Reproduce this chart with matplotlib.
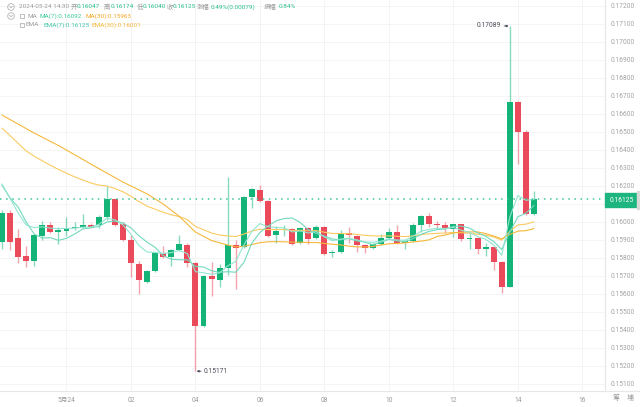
import matplotlib
matplotlib.use("Agg")
import matplotlib.pyplot as plt
from matplotlib.patches import Rectangle, Circle
from matplotlib.lines import Line2D
from matplotlib.transforms import IdentityTransform

plt.rcParams["font.family"] = ["Roboto", "Noto Sans CJK SC", "DejaVu Sans"]

# ---------- data (15 min candles, 23 May 22:00 -> 24 May 14:30) ----------
opens = [0.15891, 0.16048, 0.15911, 0.15811, 0.15785, 0.15924, 0.15983, 0.15947, 0.15950, 0.15968,
         0.15971, 0.15983, 0.15982, 0.16029, 0.16126, 0.15989, 0.15900, 0.15767, 0.15668, 0.15726,
         0.15826, 0.15804, 0.15843, 0.15874, 0.15771, 0.15422, 0.15702, 0.15676, 0.15746, 0.15874,
         0.15859, 0.16141, 0.16179, 0.16117, 0.15928, 0.15957, 0.15959, 0.15882, 0.15965, 0.15911,
         0.15971, 0.15826, 0.15833, 0.15937, 0.15922, 0.15871, 0.15854, 0.15876, 0.15909, 0.15944,
         0.15885, 0.15893, 0.15985, 0.16033, 0.15989, 0.15982, 0.15959, 0.15987, 0.15904, 0.15909,
         0.15848, 0.15859, 0.15779, 0.15641, 0.16668, 0.16502, 0.16047]
highs = [0.16067, 0.16065, 0.15961, 0.15867, 0.15933, 0.16007, 0.16000, 0.15974, 0.16029, 0.16002,
         0.16046, 0.15996, 0.16039, 0.16200, 0.16128, 0.16000, 0.15928, 0.15785, 0.15733, 0.15835,
         0.15867, 0.15848, 0.15928, 0.15881, 0.15778, 0.15706, 0.15779, 0.15767, 0.16248, 0.15900,
         0.16144, 0.16189, 0.16206, 0.16120, 0.15979, 0.15981, 0.15967, 0.15972, 0.15972, 0.15983,
         0.15975, 0.15842, 0.15956, 0.15974, 0.15928, 0.15875, 0.15885, 0.15933, 0.15965, 0.15983,
         0.15900, 0.15993, 0.16039, 0.16050, 0.16007, 0.15998, 0.15989, 0.15989, 0.15946, 0.15911,
         0.15882, 0.15861, 0.15783, 0.17089, 0.16670, 0.16512, 0.16174]
lows = [0.15850, 0.15844, 0.15771, 0.15752, 0.15757, 0.15900, 0.15939, 0.15878, 0.15924, 0.15956,
        0.15967, 0.15967, 0.15967, 0.16011, 0.15978, 0.15894, 0.15693, 0.15600, 0.15659, 0.15722,
        0.15800, 0.15756, 0.15839, 0.15748, 0.15171, 0.15417, 0.15589, 0.15641, 0.15706, 0.15626,
        0.15856, 0.16079, 0.16111, 0.15917, 0.15885, 0.15922, 0.15872, 0.15878, 0.15878, 0.15906,
        0.15817, 0.15807, 0.15828, 0.15885, 0.15833, 0.15826, 0.15850, 0.15872, 0.15906, 0.15878,
        0.15848, 0.15889, 0.15946, 0.15974, 0.15965, 0.15941, 0.15918, 0.15896, 0.15848, 0.15822,
        0.15811, 0.15733, 0.15607, 0.15637, 0.16322, 0.16040, 0.16040]
closes = [0.16052, 0.15891, 0.15807, 0.15783, 0.15926, 0.15983, 0.15946, 0.15953, 0.15965, 0.15972,
          0.15985, 0.15974, 0.16029, 0.16125, 0.15983, 0.15900, 0.15774, 0.15678, 0.15726, 0.15826,
          0.15807, 0.15843, 0.15878, 0.15771, 0.15422, 0.15700, 0.15682, 0.15746, 0.15871, 0.15856,
          0.16141, 0.16183, 0.16117, 0.15922, 0.15952, 0.15961, 0.15878, 0.15965, 0.15906, 0.15971,
          0.15821, 0.15835, 0.15933, 0.15925, 0.15874, 0.15857, 0.15876, 0.15909, 0.15944, 0.15882,
          0.15894, 0.15985, 0.16033, 0.15989, 0.15982, 0.15961, 0.15987, 0.15904, 0.15909, 0.15848,
          0.15859, 0.15779, 0.15641, 0.16668, 0.16502, 0.16044, 0.16125]

ma7 = [0.16204, 0.16133, 0.16083, 0.16000, 0.15933, 0.15911, 0.15913, 0.15898, 0.15909, 0.15933,
       0.15961, 0.15968, 0.15975, 0.16000, 0.16005, 0.15995, 0.15967, 0.15923, 0.15888, 0.15859,
       0.15813, 0.15793, 0.15790, 0.15790, 0.15753, 0.15750, 0.15729, 0.15720, 0.15724, 0.15721,
       0.15774, 0.15883, 0.15942, 0.15977, 0.16006, 0.16019, 0.16022, 0.15997, 0.15957, 0.15936,
       0.15922, 0.15905, 0.15901, 0.15908, 0.15895, 0.15888, 0.15874, 0.15887, 0.15903, 0.15895,
       0.15891, 0.15907, 0.15932, 0.15948, 0.15958, 0.15961, 0.15976, 0.15977, 0.15966, 0.15940,
       0.15921, 0.15892, 0.15847, 0.15944, 0.16029, 0.16049, 0.16092]
ema7 = [0.16211, 0.16131, 0.16050, 0.15983, 0.15969, 0.15973, 0.15966, 0.15963, 0.15964, 0.15966,
        0.15971, 0.15972, 0.15986, 0.16021, 0.16012, 0.15984, 0.15932, 0.15869, 0.15833, 0.15831,
        0.15825, 0.15830, 0.15842, 0.15824, 0.15724, 0.15718, 0.15709, 0.15718, 0.15756, 0.15781,
        0.15871, 0.15949, 0.15991, 0.15974, 0.15969, 0.15967, 0.15945, 0.15950, 0.15939, 0.15947,
        0.15916, 0.15896, 0.15905, 0.15910, 0.15901, 0.15890, 0.15887, 0.15893, 0.15906, 0.15900,
        0.15899, 0.15921, 0.15949, 0.15959, 0.15965, 0.15964, 0.15970, 0.15954, 0.15943, 0.15919,
        0.15904, 0.15873, 0.15815, 0.16028, 0.16147, 0.16121, 0.16125]
ema30 = [0.16521, 0.16480, 0.16437, 0.16395, 0.16365, 0.16340, 0.16315, 0.16292, 0.16271, 0.16251,
         0.16234, 0.16217, 0.16205, 0.16200, 0.16186, 0.16168, 0.16143, 0.16113, 0.16088, 0.16071,
         0.16054, 0.16040, 0.16030, 0.16013, 0.15975, 0.15957, 0.15939, 0.15927, 0.15923, 0.15919,
         0.15933, 0.15949, 0.15960, 0.15958, 0.15958, 0.15958, 0.15953, 0.15954, 0.15951, 0.15952,
         0.15943, 0.15936, 0.15936, 0.15935, 0.15931, 0.15926, 0.15923, 0.15922, 0.15923, 0.15921,
         0.15919, 0.15923, 0.15930, 0.15934, 0.15937, 0.15939, 0.15942, 0.15940, 0.15938, 0.15932,
         0.15927, 0.15917, 0.15899, 0.15948, 0.15984, 0.15988, 0.16001]
ma30_idx = [0, 4, 7, 12, 15, 18, 20, 22, 24, 26, 28] + list(range(29, 67))
ma30 = [0.16594, 0.16494, 0.16425, 0.16297, 0.16222, 0.16156, 0.16100, 0.16031, 0.15944, 0.15897,
        0.15872,
        0.15862, 0.15865, 0.15875, 0.15885, 0.15890, 0.15891, 0.15890, 0.15888, 0.15888, 0.15886,
        0.15886, 0.15881, 0.15876, 0.15873, 0.15866, 0.15862, 0.15861, 0.15864, 0.15872, 0.15879,
        0.15881, 0.15884, 0.15889, 0.15894, 0.15901, 0.15920, 0.15928, 0.15939, 0.15944, 0.15945,
        0.15945, 0.15936, 0.15922, 0.15906, 0.15931, 0.15949, 0.15952, 0.15963]

tick_pos = [8, 16, 24, 32, 40, 48, 56, 64, 72]
tick_labels = ["5月24", "02", "04", "06", "08", "10", "12", "14", "16"]
price_ticks = [0.151 + 0.001 * k for k in range(22)]
last_price = 0.16125

UP, DOWN = "#14b478", "#ea4a5a"
GRAY = "#9c9c9c"
TEAL1, TEAL2 = "#72d9bf", "#92e5d1"
ORANGE1, ORANGE2 = "#f5b83d", "#fbcb62"

W, H = 640, 407
fig = plt.figure(figsize=(W / 100, H / 100), dpi=100)
ax = fig.add_axes([0, 16 / H, 605 / W, 391 / H])
ax.set_xlim(-0.248, 74.81)
ax.set_ylim(0.150611, 0.172333)

# ---------- candles ----------
for i, (o, h, l, c) in enumerate(zip(opens, highs, lows, closes)):
    col = UP if c >= o else DOWN
    ax.vlines(i, l, h, color=col, alpha=0.5, lw=1, zorder=2)
    ax.bar(i, max(abs(c - o), 0.00005), bottom=min(o, c), width=0.74,
           color=col, lw=0, zorder=3)

x = list(range(len(closes)))
ax.plot(x, ema30, color=ORANGE2, lw=0.8, zorder=4)
ax.plot(ma30_idx, ma30, color=ORANGE1, lw=0.8, zorder=4)
ax.plot(x, ma7, color=TEAL1, lw=0.8, zorder=4)
ax.plot(x, ema7, color=TEAL2, lw=0.8, zorder=4)

ax.axhline(last_price, color="#3cc79a", lw=1.1, ls=(0, (1, 3)), zorder=5)

# high / low markers
ax.annotate("0.17089", xy=(62.85, max(highs)), xytext=(61.95, max(highs)),
            ha="right", va="center", fontsize=4.8, color="#4a4a5a",
            arrowprops=dict(arrowstyle="-|>", color="#4a4a5a", lw=0.6,
                            mutation_scale=3, shrinkA=0, shrinkB=0))
ax.annotate("0.15171", xy=(24.15, min(lows)), xytext=(25.05, min(lows)),
            ha="left", va="center", fontsize=4.8, color="#4a4a5a",
            arrowprops=dict(arrowstyle="-|>", color="#4a4a5a", lw=0.6,
                            mutation_scale=3, shrinkA=0, shrinkB=0))

# ---------- axes ----------
ax.set_xticks(tick_pos)
ax.set_xticklabels(tick_labels)
ax.set_yticks(price_ticks)
# the 0.16100 label sits under the last-price tag
ax.set_yticklabels(["" if abs(v - 0.161) < 1e-9 else f"{v:.5f}" for v in price_ticks])
ax.yaxis.tick_right()
ax.tick_params(axis="y", length=0, pad=4, labelsize=4.8, labelcolor="#a3a3a3")
ax.tick_params(axis="x", length=0, pad=4, labelsize=4.8, labelcolor="#9a9a9a")
ax.grid(color="#f3f3f3", lw=0.6)
ax.set_axisbelow(True)
for s in ["top", "left", "bottom"]:
    ax.spines[s].set_visible(False)
ax.spines["right"].set_color("#e6e6e6")
ax.spines["right"].set_linewidth(0.8)

T = IdentityTransform()
fig.lines.append(Line2D([0, W], [H - 391, H - 391], color="#e6e6e6", lw=0.8, transform=T))

# last price tag
fig.patches.append(Rectangle((605, H - 207), 33, 14, color="#1db57f", transform=T, zorder=10))
fig.patches.append(Rectangle((637, H - 209), 3, 18, color="#d9d9d9", transform=T, zorder=10))
fig.text(621.5 / W, 1 - 200 / H, f"{last_price:.5f}", color="white", fontsize=4.8,
         ha="center", va="center", zorder=11)

fig.text(616 / W, 1 - 398 / H, "筹", color="#9a9a9a", fontsize=5, ha="center", va="center")
fig.text(630 / W, 1 - 398 / H, "埔", color="#9a9a9a", fontsize=5, ha="center", va="center")

# ---------- header ----------
GREEN_T = "#2bbf88"
header = [
    (7, [("2024-05-24 14:30", 19, GRAY), ("开", 71, GRAY), ("0.16047", 77, GREEN_T),
         ("高", 104, GRAY), ("0.16174", 111, GREEN_T), ("低", 137, GRAY), ("0.16040", 143, GREEN_T),
         ("收", 167, GRAY), ("0.16125", 173, GREEN_T), ("涨幅", 197, GRAY),
         ("0.49%(0.00079)", 211, GREEN_T), ("振幅", 264, GRAY), ("0.84%", 279, GREEN_T)]),
    (16, [("MA", 27, GRAY), ("MA(7):0.16092", 40, "#3cc99a"), ("MA(30):0.15963", 85, "#f5a623")]),
    (25, [("EMA", 26, GRAY), ("EMA(7):0.16125", 44, "#3cc6a8"), ("EMA(30):0.16001", 92, "#f5b63c")]),
]
for y, items in header:
    for txt, xp, col in items:
        fig.text(xp / W, 1 - y / H, txt, color=col, fontsize=4.6, ha="left", va="center")

# small icons
for yy in (7, 16):
    fig.patches.append(Circle((11, H - yy), 3.3, fill=False, ec="#b5b5b5", lw=0.6, transform=T))
    fig.lines.append(Line2D([9.5, 11, 12.5], [H - yy + 0.7, H - yy - 0.8, H - yy + 0.7],
                            color="#b5b5b5", lw=0.6, transform=T))
for yy in (16, 25):
    fig.patches.append(Rectangle((20, H - yy - 2), 4, 4.5, fill=False, ec="#b5b5b5", lw=0.6, transform=T))

fig.savefig("out.png", dpi=100, facecolor="white")
